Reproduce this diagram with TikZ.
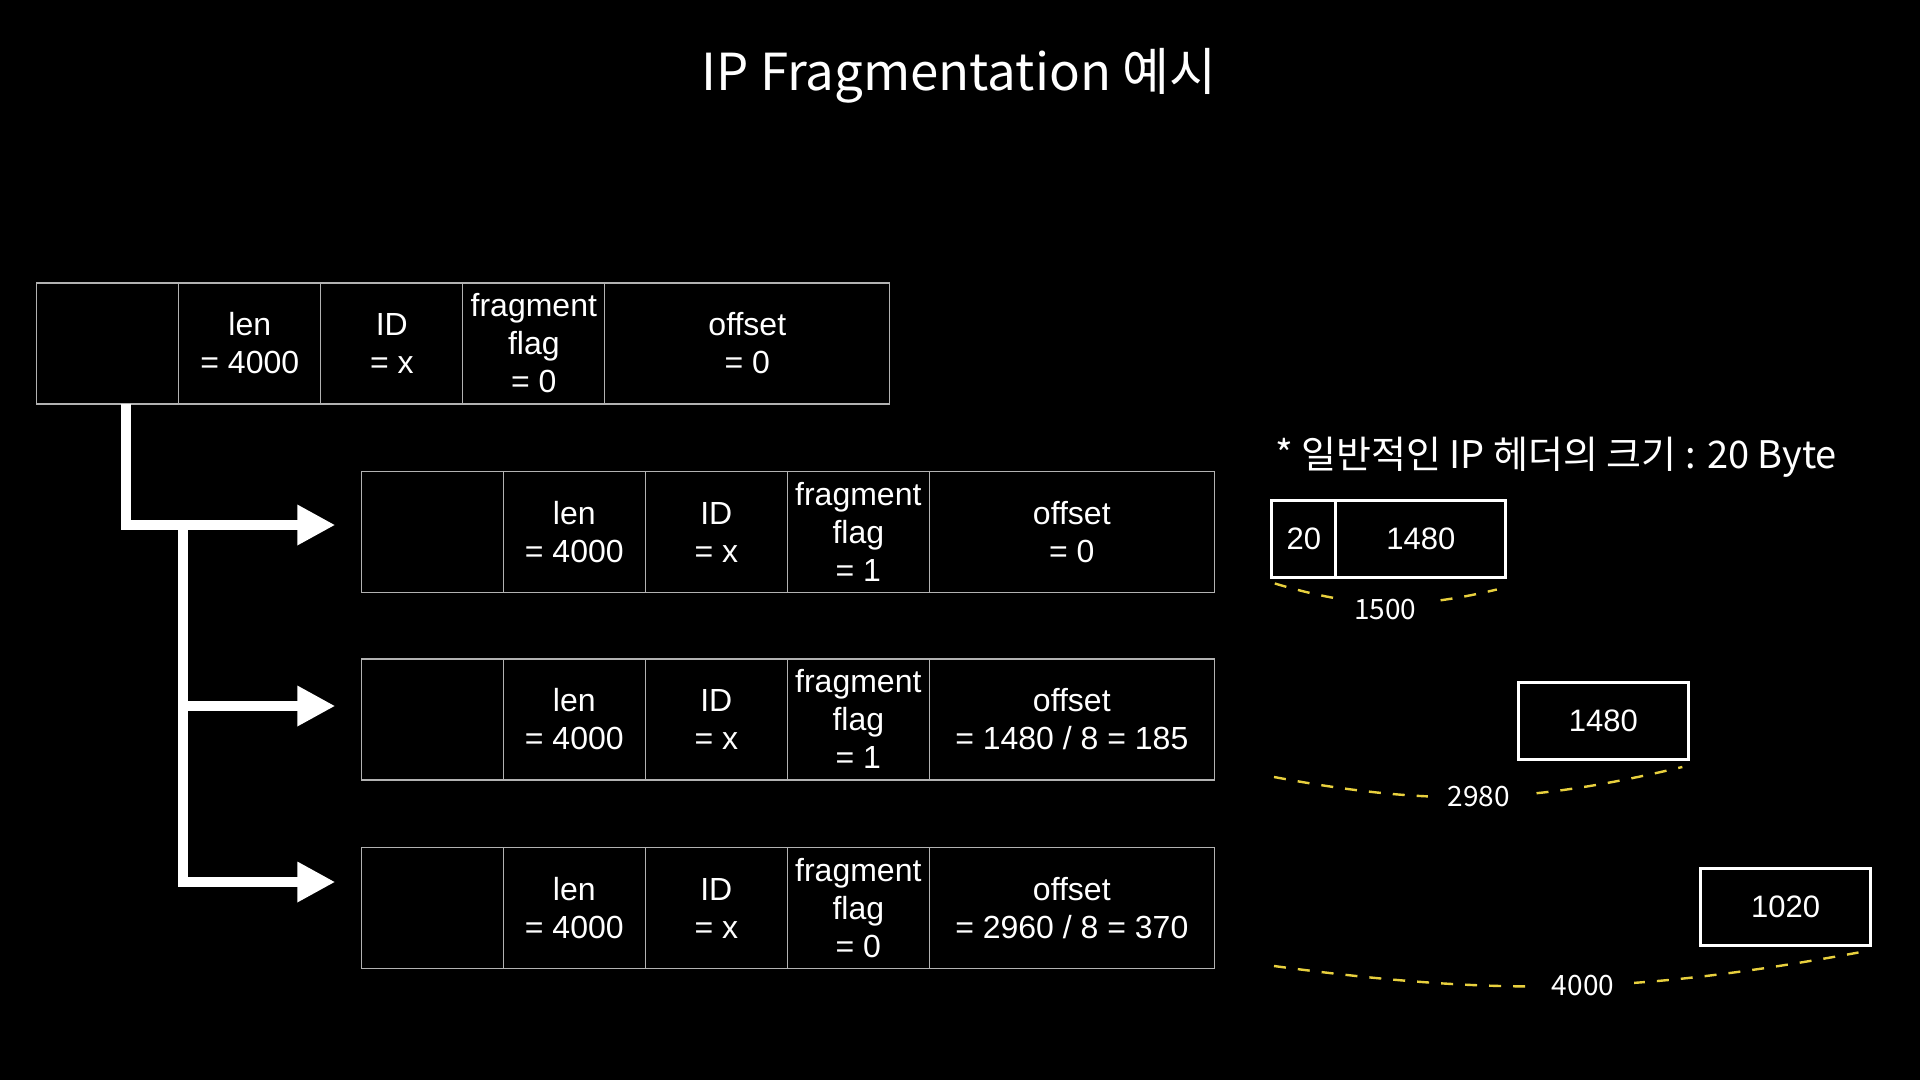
\documentclass[tikz,border=0pt]{standalone}
\usepackage{fontspec}
\setmainfont{Liberation Sans}
\newfontfamily\kor{Noto Sans CJK KR}
\usetikzlibrary{positioning,arrows.meta}
\definecolor{dimyellow}{RGB}{232,208,62}

\begin{document}
\begin{tikzpicture}[x=0.5pt,y=-0.5pt,
  cell/.style={draw=white!70!black,line width=0.6pt,outer sep=0pt,minimum width=71pt,minimum height=60.5pt,inner sep=0pt,align=center,text=white,font=\fontsize{16}{19}\selectfont},
  wide/.style={cell,minimum width=142.5pt},
  sizebox/.style={draw=white,line width=1.5pt,outer sep=0pt,minimum height=38.5pt,inner sep=0pt,text=white,font=\fontsize{15.5}{18}\selectfont},
  fat/.style={white,line width=5pt,-{Triangle[length=19pt,width=19pt]}},
  dimline/.style={draw=dimyellow,line width=1.2pt,dash pattern=on 6pt off 6pt},
  dimlabel/.style={fill=black,text=white,inner xsep=10pt,inner ysep=2pt,font=\kor\fontsize{14}{16}\selectfont}]
\fill[black] (0,0) rectangle (1920,1080);
\useasboundingbox (0,0) rectangle (1920,1080);

\node[text=white,font=\kor\fontsize{25.5}{30}\selectfont] (title) at (959,76) {IP Fragmentation 예시};

\node[cell] (p0h) at (107.8,343.5) {};
\node[cell,right=0pt of p0h] (p0len) {len\\= 4000};
\node[cell,right=0pt of p0len] (p0id) {ID\\= x};
\node[cell,right=0pt of p0id] (p0flag) {fragment\\flag\\= 0};
\node[wide,right=0pt of p0flag] (p0off) {offset\\= 0};

\node[cell] (f1h) at (432.3,532) {};
\node[cell,right=0pt of f1h] (f1len) {len\\= 4000};
\node[cell,right=0pt of f1len] (f1id) {ID\\= x};
\node[cell,right=0pt of f1id] (f1flag) {fragment\\flag\\= 1};
\node[wide,right=0pt of f1flag] (f1off) {offset\\= 0};

\node[cell] (f2h) at (432.3,719.4) {};
\node[cell,right=0pt of f2h] (f2len) {len\\= 4000};
\node[cell,right=0pt of f2len] (f2id) {ID\\= x};
\node[cell,right=0pt of f2id] (f2flag) {fragment\\flag\\= 1};
\node[wide,right=0pt of f2flag] (f2off) {offset\\= 1480 / 8 = 185};

\node[cell] (f3h) at (432.3,908) {};
\node[cell,right=0pt of f3h] (f3len) {len\\= 4000};
\node[cell,right=0pt of f3len] (f3id) {ID\\= x};
\node[cell,right=0pt of f3id] (f3flag) {fragment\\flag\\= 0};
\node[wide,right=0pt of f3flag] (f3off) {offset\\= 2960 / 8 = 370};

\coordinate (split) at (183,525);
\draw[fat] ([xshift=9pt]p0h.south) |- ([xshift=-13pt,yshift=3.5pt]f1h.west);
\draw[fat] (split) |- ([xshift=-13pt,yshift=6.7pt]f2h.west);
\draw[fat] (split) |- ([xshift=-13pt,yshift=13pt]f3h.west);

\node[anchor=west,text=white,font=\kor\fontsize{19}{22}\selectfont] (note) at (1268,457) {* 일반적인 IP 헤더의 크기 : 20 Byte};
\node[sizebox,minimum width=32pt] (hd) at (1303.8,539) {20};
\node[sizebox,minimum width=85pt,right=0pt of hd] (pl1) {1480};
\node[sizebox,minimum width=85pt] (pl2) at (1603.3,720.5) {1480};
\node[sizebox,minimum width=85pt] (pl3) at (1785.5,907) {1020};

\coordinate (a2) at (1274,777);
\coordinate (a3) at (1274,966);
\draw[dimline] ([shift={(1.5pt,-3pt)}]hd.south west) to[bend right=15] node[dimlabel,yshift=-3pt] {1500} ([shift={(-4.5pt,-6pt)}]pl1.south east);
\draw[dimline] (a2) to[bend right=12] node[dimlabel] {2980} ([shift={(-3pt,-4pt)}]pl2.south east);
\draw[dimline] (a3) to[bend right=9] node[dimlabel,pos=0.53] {4000} ([shift={(-6pt,-3.5pt)}]pl3.south east);
\end{tikzpicture}
\end{document}
